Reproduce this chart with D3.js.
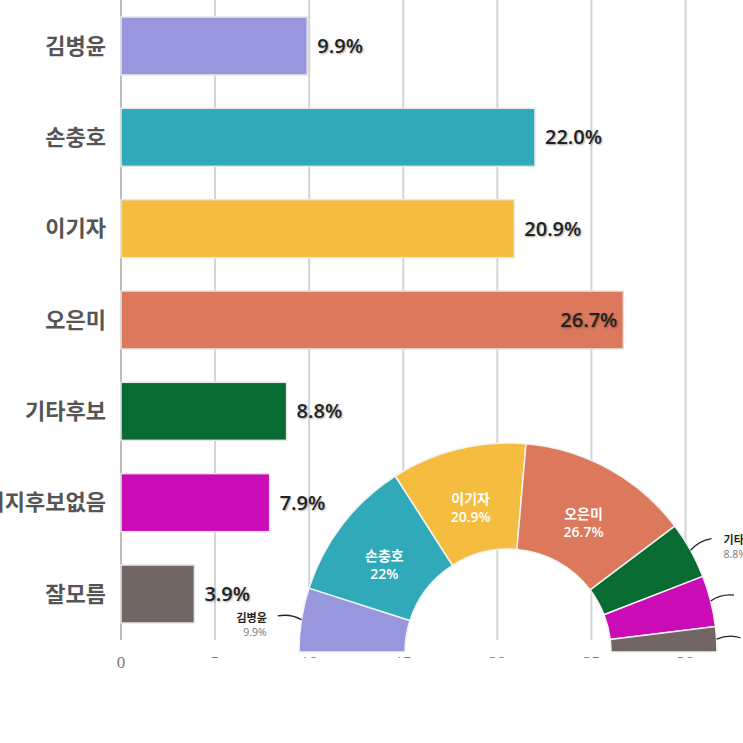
<!DOCTYPE html>
<html>
<head>
<meta charset="utf-8">
<script src="https://cdn.jsdelivr.net/npm/d3@7"></script>
<style>
  html, body { margin: 0; padding: 0; background: #fff; overflow: hidden; }
  svg { display: block; }
</style>
</head>
<body>
<div id="wrapper"></div>
<script>
// data
const names = ["김병윤", "손충호", "이기자", "오은미", "기타후보", "지지후보없음", "잘모름"]
const values = [9.9, 22.0, 20.9, 26.7, 8.8, 7.9, 3.9]
const colors = ["#9897de", "#30a9b8", "#f4bd40", "#dc785b", "#076b32", "#cb0bb5", "#716663"]
const tickValues = [0, 5, 10, 15, 20, 25, 30]

const data = names.map((name, i) => ({name, value: values[i], color: colors[i]}))

function drawChart() {

  // dimensions
  let dimensions = {
    width: 743,
    height: 743,
    margin: {top: 0, right: 57, bottom: 103, left: 121},
  }
  dimensions.boundedWidth = dimensions.width - dimensions.margin.left - dimensions.margin.right
  dimensions.boundedHeight = dimensions.height - dimensions.margin.top - dimensions.margin.bottom

  const svg = d3.select("#wrapper")
    .append("svg")
      .attr("width", dimensions.width)
      .attr("height", dimensions.height)

  const bounds = svg.append("g")
      .attr("transform", `translate(${dimensions.margin.left},${dimensions.margin.top})`)

  // scales
  const xScale = d3.scaleLinear()
    .domain([0, 30])
    .range([0, dimensions.boundedWidth - 0.5])

  const yScale = d3.scaleBand()
    .domain(names)
    .range([0, dimensions.boundedHeight])
    .paddingInner(0.365)
    .paddingOuter(0.186)

  // gridlines
  bounds.append("g")
    .selectAll("line")
    .data(tickValues)
    .join("line")
      .attr("x1", d => xScale(d))
      .attr("x2", d => xScale(d))
      .attr("y1", 0)
      .attr("y2", dimensions.boundedHeight)
      .attr("stroke", d => d === 0 ? "#bdbdbd" : "#d4d4d4")
      .attr("stroke-width", 2)

  // bars
  bounds.append("g")
    .selectAll("rect")
    .data(data)
    .join("rect")
      .attr("x", 0)
      .attr("y", d => yScale(d.name))
      .attr("width", d => xScale(d.value))
      .attr("height", yScale.bandwidth())
      .attr("fill", d => d.color)
      .attr("stroke", "#e6e6e6")
      .attr("stroke-width", 1.5)

  // category labels
  bounds.append("g")
    .selectAll("text")
    .data(data)
    .join("text")
      .attr("x", -15)
      .attr("y", d => yScale(d.name) + yScale.bandwidth() / 2)
      .attr("dy", "0.35em")
      .attr("text-anchor", "end")
      .attr("fill", "#555")
      .style("font-family", "'Noto Sans CJK KR', sans-serif")
      .style("font-weight", 700)
      .style("font-size", "22px")
      .text(d => d.name)

  // value labels
  const fmt = v => v.toFixed(1) + "%"
  bounds.append("g")
    .selectAll("text")
    .data(data)
    .join("text")
      .attr("y", d => yScale(d.name) + yScale.bandwidth() / 2)
      .attr("dy", "0.35em")
      .attr("fill", "#222")
      .style("font-family", "'Open Sans', 'Noto Sans CJK KR', sans-serif")
      .style("font-weight", 600)
      .style("font-size", "20px")
      .style("text-shadow", "1px 1px 2px rgba(0,0,0,0.35)")
      .text(d => fmt(d.value))
      .each(function(d) {
        const w = this.getComputedTextLength()
        const outside = xScale(d.value) + 10 + w <= dimensions.boundedWidth
        d3.select(this)
          .attr("x", outside ? xScale(d.value) + 10 : xScale(d.value) - 6)
          .attr("text-anchor", outside ? "start" : "end")
      })

  // axis tick labels
  bounds.append("g")
    .selectAll("text")
    .data(tickValues)
    .join("text")
      .attr("x", d => xScale(d))
      .attr("y", dimensions.boundedHeight + 22)
      .attr("dy", "0.35em")
      .attr("text-anchor", "middle")
      .attr("fill", "#777")
      .style("font-family", "'Liberation Serif', serif")
      .style("font-size", "17px")
      .text(d => d)

  // cover of the overlaid picture below the half donut
  svg.append("rect")
      .attr("x", 195)
      .attr("y", 658)
      .attr("width", 548)
      .attr("height", 85)
      .attr("fill", "#fff")

  // half donut
  const cx = 508, cy = 652
  const outerR = 209, innerR = 103

  const pie = d3.pie()
    .sort(null)
    .value(d => d.value)
    .startAngle(-Math.PI / 2)
    .endAngle(Math.PI / 2)

  const arc = d3.arc().innerRadius(innerR).outerRadius(outerR)
  const arcs = pie(data)

  const donut = svg.append("g")
      .attr("transform", `translate(${cx},${cy})`)

  donut.append("g")
    .selectAll("path")
    .data(arcs)
    .join("path")
      .attr("d", arc)
      .attr("fill", d => d.data.color)
      .attr("stroke", "#f2f2f2")
      .attr("stroke-width", 1.5)

  // inner labels for the big slices
  const big = arcs.filter(d => d.data.value > 15)
  const inner = donut.append("g")
    .selectAll("g")
    .data(big)
    .join("g")
      .attr("transform", d => `translate(${arc.centroid(d)})`)
      .style("font-family", "'Open Sans', 'Noto Sans CJK KR', sans-serif")
      .style("font-weight", 600)
      .style("font-size", "14px")
      .attr("fill", "#fff")
      .attr("text-anchor", "middle")

  inner.append("text")
      .attr("y", -1)
      .attr("dy", "0.35em")
      .text(d => d.data.name)
  inner.append("text")
      .attr("y", 17)
      .attr("dy", "0.35em")
      .text(d => d.data.value + "%")

  // outer labels with leader lines
  const small = arcs.filter(d => d.data.value <= 15)
  const mid = d => (d.startAngle + d.endAngle) / 2
  const pt = (a, r) => [Math.sin(a) * r, -Math.cos(a) * r]

  donut.append("g")
    .selectAll("path")
    .data(small)
    .join("path")
      .attr("d", d => {
        const a = mid(d)
        const p0 = pt(a, outerR)
        const p1 = pt(a + (a < 0 ? 0.02 : -0.02), outerR + 12)
        const p2 = pt(a, outerR + 24)
        return `M${p0}Q${p1} ${p2}`
      })
      .attr("fill", "none")
      .attr("stroke", "#222")
      .attr("stroke-width", 1.3)

  const outer = donut.append("g")
    .selectAll("g")
    .data(small)
    .join("g")
      .attr("transform", d => {
        const a = mid(d)
        const p = pt(a, outerR + 24)
        return `translate(${p[0] + (a < 0 ? -11 : 12)},${p[1]})`
      })
      .attr("text-anchor", d => mid(d) < 0 ? "end" : "start")
      .style("font-family", "'Open Sans', 'Noto Sans CJK KR', sans-serif")

  outer.append("text")
      .attr("y", 2)
      .attr("dy", "0.35em")
      .attr("fill", "#222")
      .style("font-weight", 700)
      .style("font-size", "11px")
      .text(d => d.data.name)
  outer.append("text")
      .attr("y", 16)
      .attr("dy", "0.35em")
      .attr("fill", "#777")
      .style("font-size", "10.5px")
      .text(d => d.data.value + "%")
}

drawChart()
</script>
</body>
</html>
